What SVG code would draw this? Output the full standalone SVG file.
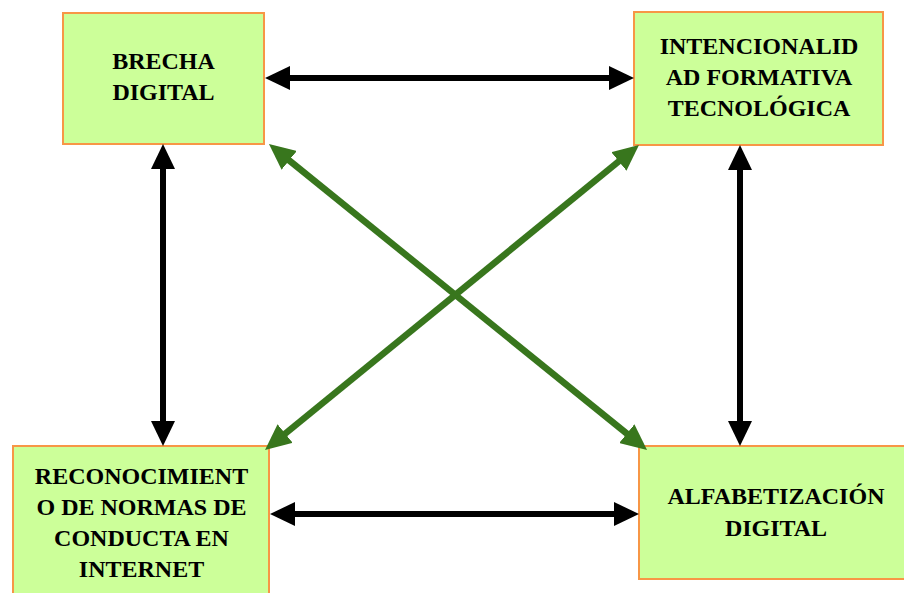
<svg xmlns="http://www.w3.org/2000/svg" width="904" height="593" viewBox="0 0 904 593">
<style>
.box{fill:#ccff99;stroke:#f79646;stroke-width:2}
.lbl{font-family:"Liberation Serif","Times New Roman",serif;font-weight:bold;font-size:24px;fill:#000;text-anchor:middle}
.blk{stroke:#000;stroke-width:6;fill:none;marker-start:url(#hb);marker-end:url(#hb)}
.grn{stroke:#38761d;stroke-width:6.5;fill:none;marker-start:url(#hg);marker-end:url(#hg)}
</style>
<defs>
<marker id="hb" markerUnits="userSpaceOnUse" viewBox="0 0 25 24" markerWidth="25" markerHeight="24" refX="5" refY="12" orient="auto-start-reverse"><path d="M0,0 L25,12 L0,24 z" fill="#000"/></marker>
<marker id="hg" markerUnits="userSpaceOnUse" viewBox="0 0 26 24" markerWidth="26" markerHeight="24" refX="6" refY="12" orient="auto-start-reverse"><path d="M0,0 L26,12 L0,24 z" fill="#38761d"/></marker>
</defs>
<rect width="904" height="593" fill="#fff"/>
<g id="n1"><rect class="box" x="63" y="13" width="201" height="131"/><text class="lbl" x="163.5" y="69">BRECHA</text><text class="lbl" x="163.5" y="100">DIGITAL</text></g>
<g id="n2"><rect class="box" x="634" y="12" width="249" height="133"/><text class="lbl" x="759" y="54">INTENCIONALID</text><text class="lbl" x="759" y="85">AD FORMATIVA</text><text class="lbl" x="759" y="116">TECNOLÓGICA</text></g>
<g id="n3"><rect class="box" x="13" y="446" width="256" height="170"/><text class="lbl" x="141.5" y="484">RECONOCIMIENT</text><text class="lbl" x="141.5" y="514.5">O DE NORMAS DE</text><text class="lbl" x="141.5" y="545.5">CONDUCTA EN</text><text class="lbl" x="141.5" y="576.5">INTERNET</text></g>
<g id="n4"><rect class="box" x="639" y="446" width="280" height="133"/><text class="lbl" x="776" y="504">ALFABETIZACIÓN</text><text class="lbl" x="776" y="536">DIGITAL</text></g>
<g id="connectors">
<line class="blk" x1="285" y1="78" x2="614" y2="78"/>
<line class="blk" x1="290" y1="514" x2="619" y2="514"/>
<line class="blk" x1="163" y1="164" x2="163" y2="426"/>
<line class="blk" x1="740" y1="165" x2="740" y2="426"/>
<line class="grn" x1="284.5" y1="156.6" x2="631.5" y2="437.4"/>
<line class="grn" x1="623.5" y1="157.6" x2="280.5" y2="437.4"/>
</g>
</svg>
